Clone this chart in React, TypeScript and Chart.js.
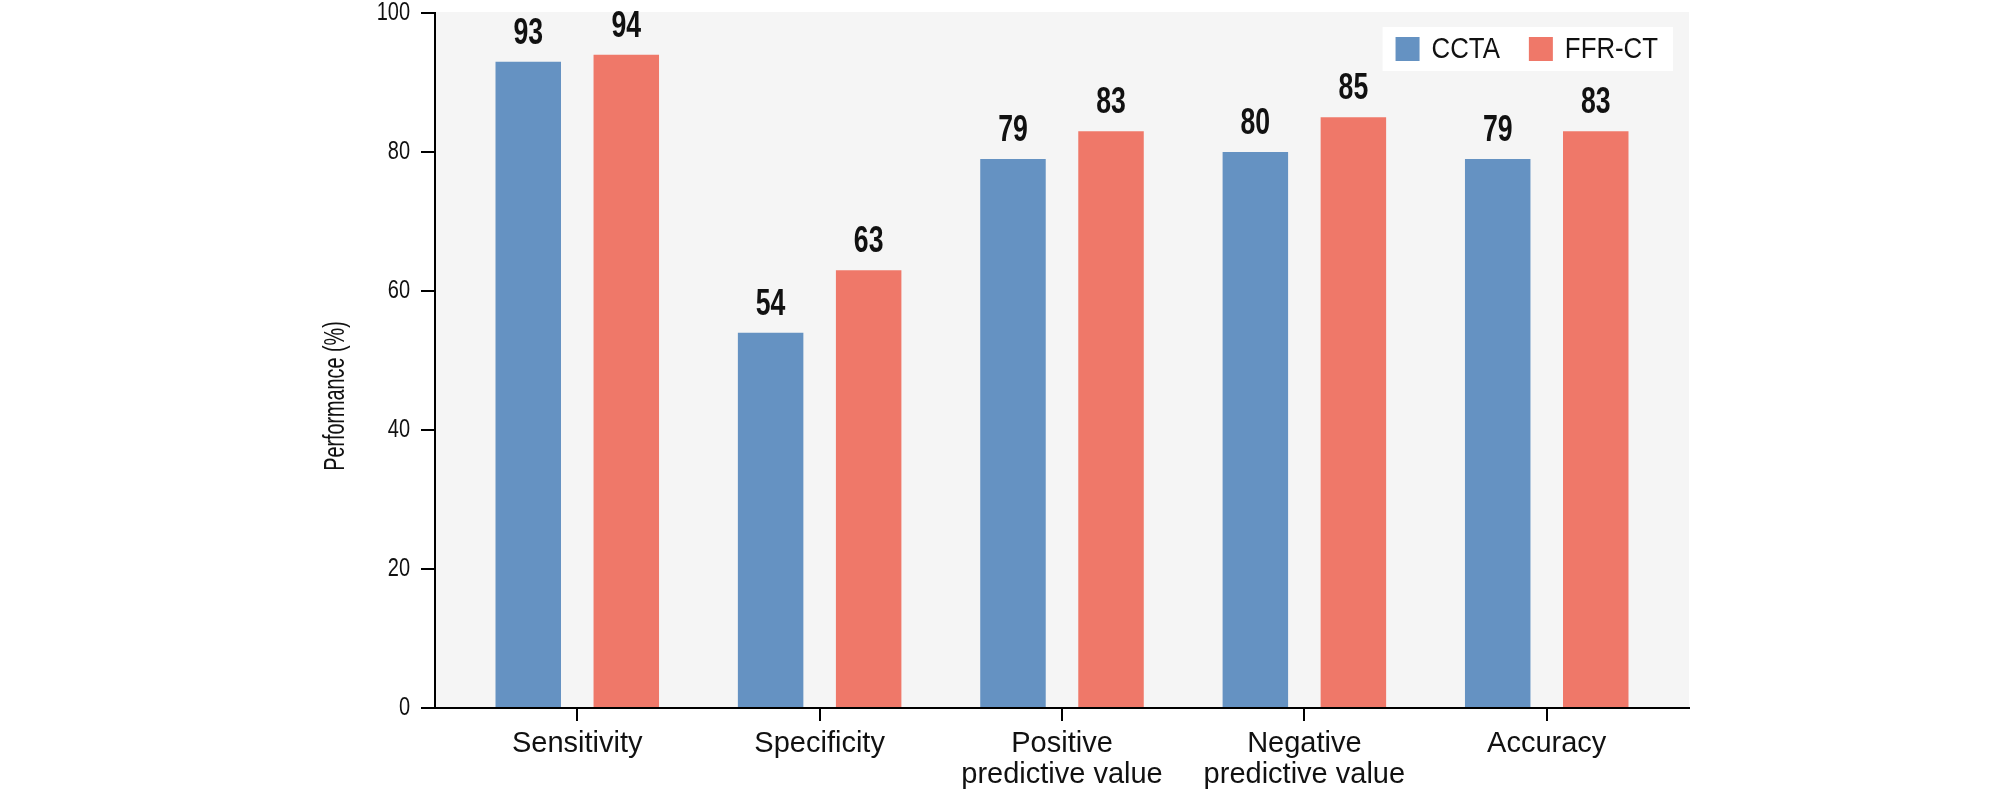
import { useEffect, useRef } from 'react';
import { Chart, registerables } from 'chart.js';

Chart.register(...registerables);

const categories = ['Sensitivity', 'Specificity', 'Positive predictive value', 'Negative predictive value', 'Accuracy'];
const tickLabels: string[][] = [['Sensitivity'], ['Specificity'], ['Positive', 'predictive value'], ['Negative', 'predictive value'], ['Accuracy']];
const seriesNames = ['CCTA', 'FFR-CT'];
const seriesColors = ['#6592c2', '#ef7869'];
const cctaValues = [93, 54, 79, 80, 79];
const ffrctValues = [94, 63, 83, 85, 83];
const yTicks = [0, 20, 40, 60, 80, 100];
const yTitle = 'Performance (%)';

const SANS = "'Liberation Sans', Arial, sans-serif";

const bgPlugin = {
  id: 'plotBg',
  beforeDraw(chart: any) {
    const { ctx, chartArea: a } = chart;
    ctx.save();
    ctx.fillStyle = '#f5f5f5';
    ctx.fillRect(a.left, a.top - 1, a.right - a.left, a.bottom - a.top + 1);
    ctx.restore();
  },
};

// Condense the y tick labels horizontally (right-aligned anchor stays fixed)
const condensedYTicks = {
  id: 'condYTicks',
  afterLayout(chart: any) {
    const s = chart.scales.y;
    if (!s || s._condPatched) return;
    const orig = s.drawLabels;
    s.drawLabels = function (area: any) {
      const ctx = this.ctx;
      const ax = this.right - this.options.grid.tickLength - this.options.ticks.padding;
      ctx.save();
      ctx.translate(ax, 0);
      ctx.scale(0.8, 1);
      ctx.translate(-ax, 0);
      orig.call(this, area);
      ctx.restore();
    };
    s._condPatched = true;
  },
};

const titlePlugin = {
  id: 'yTitle',
  afterDraw(chart: any) {
    const { ctx } = chart;
    ctx.save();
    ctx.translate(336, 396);
    ctx.rotate(-Math.PI / 2);
    ctx.scale(0.66, 1);
    ctx.font = `30px ${SANS}`;
    ctx.fillStyle = '#111';
    ctx.textAlign = 'center';
    ctx.textBaseline = 'middle';
    ctx.fillText(yTitle, 0, 0);
    ctx.restore();
  },
};

const valueLabelPlugin = {
  id: 'valueLabels',
  afterDatasetsDraw(chart: any) {
    const { ctx } = chart;
    chart.data.datasets.forEach((ds: any, di: number) => {
      const meta = chart.getDatasetMeta(di);
      meta.data.forEach((el: any, i: number) => {
        const v = ds.data[i].y;
        ctx.save();
        ctx.translate(el.x, el.y - 18);
        ctx.scale(0.72, 1);
        ctx.font = `bold 37px ${SANS}`;
        ctx.fillStyle = '#111';
        ctx.textAlign = 'center';
        ctx.textBaseline = 'alphabetic';
        ctx.fillText(String(v), 0, 0);
        ctx.restore();
      });
    });
  },
};

const legendPlugin = {
  id: 'customLegend',
  afterDraw(chart: any) {
    const { ctx, chartArea: a } = chart;
    ctx.save();
    const sx = 0.86;
    ctx.font = `30px ${SANS}`;
    const box = 24, gapText = 12, itemGap = 29, padL = 13, padR = 15;
    const widths = seriesNames.map((n) => ctx.measureText(n).width * sx);
    let total = padL + padR + itemGap * (seriesNames.length - 1);
    widths.forEach((w) => { total += box + gapText + w; });
    const right = a.right - 16;
    const left = right - total;
    const top = a.top + 14;
    const h = 44;
    ctx.fillStyle = '#ffffff';
    ctx.fillRect(left, top, total, h);
    let x = left + padL;
    seriesNames.forEach((n, i) => {
      ctx.fillStyle = seriesColors[i];
      ctx.fillRect(x, top + 10, box, box);
      ctx.save();
      ctx.translate(x + box + gapText, top + h / 2 + 1);
      ctx.scale(sx, 1);
      ctx.fillStyle = '#111';
      ctx.textAlign = 'left';
      ctx.textBaseline = 'middle';
      ctx.fillText(n, 0, 0);
      ctx.restore();
      x += box + gapText + widths[i] + itemGap;
    });
    ctx.restore();
  },
};

export default function App() {
  const ref = useRef<HTMLCanvasElement | null>(null);

  useEffect(() => {
    if (!ref.current) return;
    const chart = new Chart(ref.current, {
      type: 'bar',
      data: {
        datasets: [
          {
            label: seriesNames[0],
            data: cctaValues.map((v, i) => ({ x: i, y: v })),
            backgroundColor: seriesColors[0],
            categoryPercentage: 0.809,
            barPercentage: 0.668,
          },
          {
            label: seriesNames[1],
            data: ffrctValues.map((v, i) => ({ x: i, y: v })),
            backgroundColor: seriesColors[1],
            categoryPercentage: 0.809,
            barPercentage: 0.668,
          },
        ],
      } as any,
      options: {
        animation: false,
        responsive: true,
        maintainAspectRatio: false,
        layout: { padding: { left: 0, right: 320, top: 13, bottom: 0 } },
        plugins: {
          legend: { display: false },
          tooltip: { enabled: false },
        },
        scales: {
          x: {
            type: 'linear',
            min: -0.587,
            max: 4.587,
            offset: false,
            afterBuildTicks: (s: any) => {
              s.ticks = categories.map((_, i) => ({ value: i }));
            },
            ticks: {
              autoSkip: false,
              maxRotation: 0,
              minRotation: 0,
              padding: 7,
              color: '#111',
              font: { family: SANS, size: 29, lineHeight: 1.07 },
              callback: (v: any) => tickLabels[Math.round(Number(v))] ?? '',
            },
            grid: { drawOnChartArea: false, drawTicks: true, tickLength: 13, color: '#000', lineWidth: 2, offset: false },
            border: { display: true, color: '#000', width: 2 },
            afterFit: (s: any) => { s.height = 94; s.paddingLeft = 0; s.paddingRight = 0; },
          },
          y: {
            min: 0,
            max: 100,
            afterBuildTicks: (s: any) => {
              s.ticks = yTicks.map((v) => ({ value: v }));
            },
            ticks: {
              padding: 11,
              color: '#111',
              font: { family: SANS, size: 25 },
            },
            grid: { drawOnChartArea: false, drawTicks: true, tickLength: 14, color: '#000', lineWidth: 2 },
            border: { display: true, color: '#000', width: 2 },
            title: { display: false },
            afterFit: (s: any) => { s.width = 435; s.paddingTop = 0; s.paddingBottom = 0; },
          },
        } as any,
      },
      plugins: [bgPlugin, condensedYTicks, valueLabelPlugin, legendPlugin, titlePlugin],
    });
    return () => chart.destroy();
  }, []);

  return (
    <div style={{ position: 'fixed', left: 0, top: 0, width: 2009, height: 802, background: '#fff' }}>
      <canvas ref={ref} />
    </div>
  );
}
